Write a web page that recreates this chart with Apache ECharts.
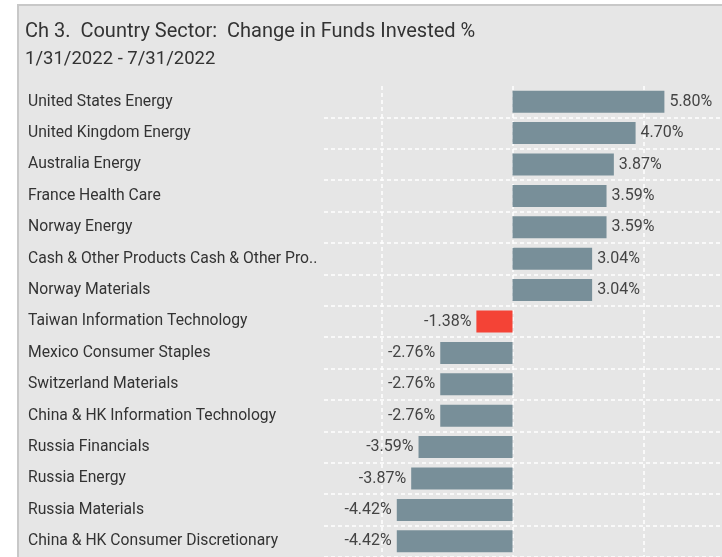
<!DOCTYPE html>
<html>
<head>
<meta charset="utf-8">
<script src="https://cdn.jsdelivr.net/npm/echarts@6/dist/echarts.min.js"></script>
<style>
  html, body { margin: 0; padding: 0; background: #fff; overflow: hidden; }
  #frame {
    position: absolute; left: 17px; top: 4px; width: 720px; height: 570px;
    background: #e6e6e6; border-left: 2px solid #c8c8c8; border-top: 2px solid #c8c8c8;
  }
  #chart { position: absolute; left: 0; top: 0; width: 722px; height: 557px; }
</style>
</head>
<body>
<div id="frame"></div>
<div id="chart"></div>
<script>
const categories = [
  'United States Energy',
  'United Kingdom Energy',
  'Australia Energy',
  'France Health Care',
  'Norway Energy',
  'Cash & Other Products Cash & Other Pro..',
  'Norway Materials',
  'Taiwan Information Technology',
  'Mexico Consumer Staples',
  'Switzerland Materials',
  'China & HK Information Technology',
  'Russia Financials',
  'Russia Energy',
  'Russia Materials',
  'China & HK Consumer Discretionary'
]
const values = [5.80, 4.70, 3.87, 3.59, 3.59, 3.04, 3.04, -1.38, -2.76, -2.76, -2.76, -3.59, -3.87, -4.42, -4.42]
const gridLines = [-5, 0, 5]
const highlightIndex = 7

const font = 'Roboto'
const chart = echarts.init(document.getElementById('chart'))

const option = {
  animation: false,
  title: {
    text: 'Ch 3.  Country Sector:  Change in Funds Invested %',
    subtext: '1/31/2022 - 7/31/2022',
    left: 20,
    top: 17,
    itemGap: 8,
    textStyle: { fontFamily: font, fontSize: 20, fontWeight: 'normal', color: '#333' },
    subtextStyle: { fontFamily: font, fontSize: 18.5, color: '#333' }
  },
  grid: { left: 324, right: 0, top: 86, height: 474.5, containLabel: false },
  xAxis: {
    type: 'value',
    min: -7.2,
    max: 8,
    axisLine: { show: false },
    axisTick: { show: false },
    axisLabel: { show: false },
    splitLine: { show: false }
  },
  yAxis: {
    type: 'category',
    inverse: true,
    data: categories,
    axisLine: { show: false },
    axisTick: { show: false },
    axisLabel: {
      align: 'left',
      margin: 296,
      color: '#333',
      fontFamily: font,
      fontSize: 15.7
    },
    splitLine: {
      show: true,
      interval: (i) => i !== 0,
      lineStyle: { color: '#fff', type: [4, 3], width: 1.5 }
    }
  },
  series: [{
    type: 'bar',
    barWidth: 22,
    z: 3,
    data: values.map((v, i) => ({
      value: v,
      itemStyle: { color: i === highlightIndex ? '#f44336' : '#788f99' },
      label: { position: v >= 0 ? 'right' : 'left' }
    })),
    label: {
      show: true,
      distance: 5,
      color: '#444',
      fontFamily: font,
      fontSize: 16,
      formatter: p => p.value.toFixed(2) + '%'
    },
    markLine: {
      silent: true,
      z: 1,
      symbol: 'none',
      label: { show: false },
      lineStyle: { color: '#fff', type: [4, 3], width: 1.5 },
      data: gridLines.map(x => ({ xAxis: x }))
    }
  }]
}

chart.setOption(option)
</script>
</body>
</html>
